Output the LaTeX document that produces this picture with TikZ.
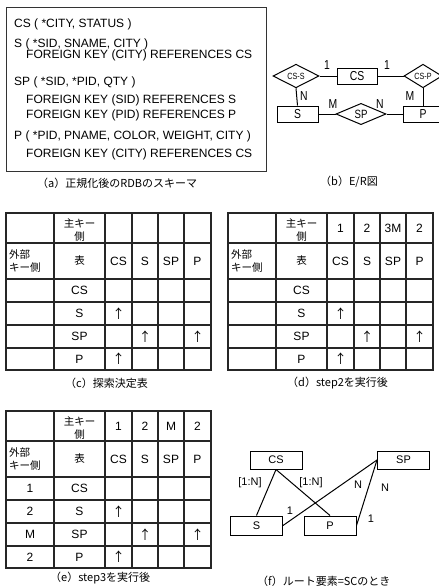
\documentclass[tikz,border=0pt]{standalone}
\usepackage{fontspec}
\setmainfont{Liberation Sans}
\newfontfamily\jp{Noto Sans CJK JP}
\newfontfamily\erfont[FakeStretch=0.8]{Liberation Sans}
\usetikzlibrary{shapes.geometric}
\tikzset{
  tbl/.style={line width=1.3pt, black!85},
  cell/.style={inner sep=0pt, font=\fontsize{12}{14}\selectfont},
  jpcell/.style={inner sep=0pt, font=\jp\fontsize{10.5}{13}\selectfont},
  arr/.style={inner sep=0pt, font=\jp\fontsize{12.5}{14}\selectfont},
  captxt/.style={inner sep=0pt, anchor=west, font=\jp\fontsize{11}{13}\selectfont},
  schema/.style={inner sep=0pt, anchor=base west, font=\fontsize{12}{14}\selectfont},
  ent/.style={draw, line width=1pt, inner sep=0pt, font=\fontsize{11}{13}\selectfont},
  erent/.style={draw, line width=1pt, inner sep=0pt, font=\erfont\fontsize{13}{15}\selectfont},
  rel/.style={draw, diamond, line width=1pt, inner sep=0pt, font=\erfont\fontsize{12}{14}\selectfont},
  erlab/.style={inner sep=0pt, font=\erfont\fontsize{13}{15}\selectfont},
  lab/.style={inner sep=0pt, font=\fontsize{11}{13}\selectfont},
  conn/.style={line width=1pt},
}
\newcommand\mytable[9]{%
  \draw[tbl] (6,213) rectangle (211,370);
  \foreach \x in {54,105,132,158,184} \draw[tbl] (\x,213) -- (\x,370);
  \foreach \y in {243,279,302,325,348} \draw[tbl] (6,\y) -- (211,\y);
  \node[jpcell, align=center] (#1-h) at (79.5,230) {主キー\\側};
  \node[jpcell, anchor=west, align=left] (#1-f) at (9,261) {外部\\キー側};
  \node[jpcell] (#1-t) at (79.5,261) {表};
  \node[cell] (#1-a1) at (118.5,228) {#2};
  \node[cell] (#1-a2) at (145,228) {#3};
  \node[cell] (#1-a3) at (171,228) {#4};
  \node[cell] (#1-a4) at (197.5,228) {#5};
  \node[cell] (#1-c1) at (118.5,261) {CS};
  \node[cell] (#1-c2) at (145,261) {S};
  \node[cell] (#1-c3) at (171,261) {SP};
  \node[cell] (#1-c4) at (197.5,261) {P};
  \node[cell] (#1-l1) at (30,290.5) {#6};
  \node[cell] (#1-l2) at (30,313.5) {#7};
  \node[cell] (#1-l3) at (30,336.5) {#8};
  \node[cell] (#1-l4) at (30,359) {#9};
  \node[cell] (#1-r1) at (79.5,290.5) {CS};
  \node[cell] (#1-r2) at (79.5,313.5) {S};
  \node[cell] (#1-r3) at (79.5,336.5) {SP};
  \node[cell] (#1-r4) at (79.5,359) {P};
  \node[arr] (#1-x1) at (118.5,313.5) {↑};
  \node[arr] (#1-x2) at (145,336.5) {↑};
  \node[arr] (#1-x3) at (197.5,336.5) {↑};
  \node[arr] (#1-x4) at (118.5,359) {↑};
}
\begin{document}
\begin{tikzpicture}[x=1pt,y=-1pt]
\useasboundingbox[fill=white] (0,0) rectangle (439,587);

% (a) schema
\draw[line width=0.9pt, black!80] (6,7) rectangle (266,171);
\node[schema] (a1) at (14,27) {CS ( *CITY, STATUS )};
\node[schema] (a2) at (14,47) {S ( *SID, SNAME, CITY )};
\node[schema] (a3) at (26,58) {FOREIGN KEY (CITY) REFERENCES CS};
\node[schema] (a4) at (14,85) {SP ( *SID, *PID, QTY )};
\node[schema] (a5) at (26,103) {FOREIGN KEY (SID) REFERENCES S};
\node[schema] (a6) at (26,118) {FOREIGN KEY (PID) REFERENCES P};
\node[schema] (a7) at (14,139) {P ( *PID, PNAME, COLOR, WEIGHT, CITY )};
\node[schema] (a8) at (26,157) {FOREIGN KEY (CITY) REFERENCES CS};
\node[captxt] (capa) at (37,183) {（a）正規化後のRDBのスキーマ};

% (b) E/R
\node[rel, minimum width=46pt, minimum height=16pt, font=\erfont\fontsize{9}{10}\selectfont] (rcss) at (296,76) {CS-S};
\node[erent, minimum width=40pt, minimum height=16pt] (ecs) at (357,76) {CS};
\node[rel, minimum width=38pt, minimum height=16pt, font=\erfont\fontsize{9}{10}\selectfont] (rcsp) at (423,76) {CS-P};
\node[erent, minimum width=41pt, minimum height=16pt] (es) at (297.5,114) {S};
\node[rel, minimum width=50pt, minimum height=16pt] (rsp) at (361,114) {SP};
\node[erent, minimum width=40pt, minimum height=16pt] (ep) at (423,114) {P};
\draw[conn] (rcss.east) -- (ecs.west);
\draw[conn] (ecs.east) -- (rcsp.west);
\draw[conn] (rcss.south) -- (es.north);
\draw[conn] (rcsp.south) -- (ep.north);
\draw[conn] (es.east) -- (rsp.west);
\draw[conn] (rsp.east) -- (ep.west);
\node[erlab] (b1) at (327,65) {1};
\node[erlab] (b2) at (387,65) {1};
\node[erlab] (b3) at (304,96) {N};
\node[erlab] (b4) at (333,104) {M};
\node[erlab] (b5) at (380,104) {N};
\node[erlab] (b6) at (410,96) {M};
\node[captxt] (capb) at (320,182) {（b）E/R図};

% (c)
\mytable{c}{}{}{}{}{}{}{}{}
\node[captxt] (capc) at (65,383) {（c）探索決定表};

% (d)
\begin{scope}[shift={(222,0)}]
\mytable{d}{1}{2}{3M}{2}{}{}{}{}
\end{scope}
\node[captxt] (capd) at (287,383) {（d）step2を実行後};

% (e)
\begin{scope}[shift={(0,198)}]
\mytable{e}{1}{2}{M}{2}{1}{2}{M}{2}
\end{scope}
\node[captxt] (cape) at (50,578) {（e）step3を実行後};

% (f)
\node[ent, minimum width=52pt, minimum height=18pt] (fcs) at (276,460) {CS};
\node[ent, minimum width=52pt, minimum height=18pt] (fsp) at (403.5,460) {SP};
\node[ent, minimum width=52pt, minimum height=19pt] (fs) at (256.5,525.5) {S};
\node[ent, minimum width=52pt, minimum height=19pt] (fp) at (330,525.5) {P};
\draw[conn] (fcs.south) -- (fs.north);
\draw[conn] (fcs.south) -- (fp.north);
\draw[conn] (fsp.west) -- (fs.east);
\draw[conn] (fsp.west) -- (fp.east);
\node[lab] (f1) at (250,483) {[1:N]};
\node[lab] (f2) at (311,483) {[1:N]};
\node[lab] (f3) at (358,485) {N};
\node[lab] (f4) at (385,488) {N};
\node[lab] (f5) at (290,511) {1};
\node[lab] (f6) at (371,519) {1};
\node[captxt] (capf) at (257,581) {（f）ルート要素=SCのとき};
\end{tikzpicture}
\end{document}
